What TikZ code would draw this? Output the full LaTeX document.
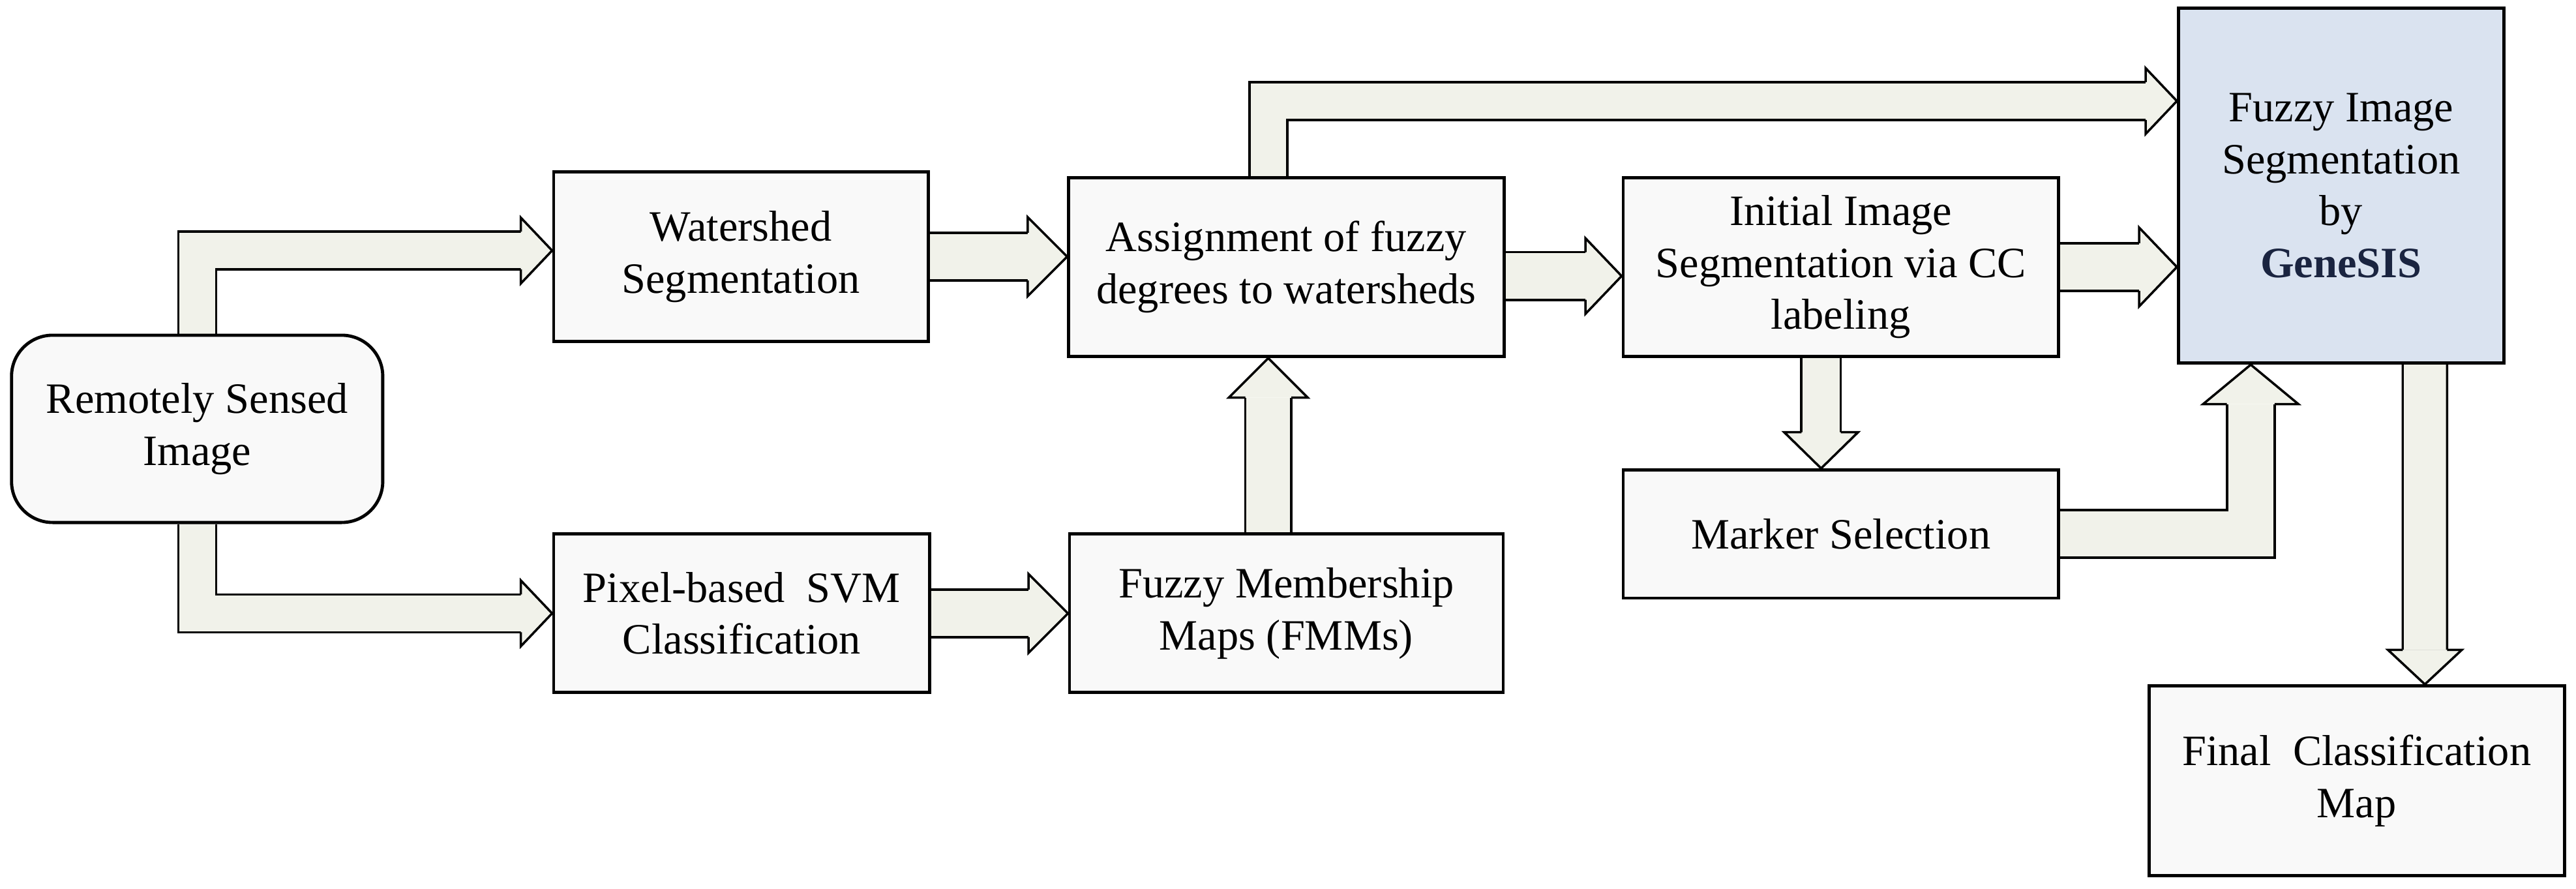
\documentclass[tikz,border=0pt]{standalone}
\usepackage{fontspec}
\setmainfont{Liberation Serif}
\usetikzlibrary{calc}
\definecolor{afill}{HTML}{F1F2EA}
\definecolor{bfill}{HTML}{F9F9F9}
\definecolor{gfill}{HTML}{DAE3F0}
\definecolor{gtext}{HTML}{1A2440}
\pgfdeclarelayer{bg}\pgfsetlayers{bg,main}
\newcommand\fatarrow[6]{%
  \begin{pgfonlayer}{bg}
  \draw[line width=0.8pt, line join=miter, double=afill, double distance=#1*0.02cm-0.8pt] #4;
  \begin{scope}[shift={#5}, rotate=#6]
    \filldraw[fill=afill, line width=0.8pt, line join=miter]
      (-#3,#1/2) -- (-#3,#2/2) -- (0,0) -- (-#3,-#2/2) -- (-#3,-#1/2);
  \end{scope}
  \end{pgfonlayer}}
\begin{document}
\begin{tikzpicture}[x=0.02cm, y=-0.02cm,
  box/.style={draw, line width=1.1pt, fill=bfill, align=center, inner sep=2pt,
    font=\fontsize{15}{18}\selectfont},
  lbl/.style={}]
\useasboundingbox (0,0) rectangle (1568,541);
\node[box, rounded corners=0.5cm, minimum width=4.52cm, minimum height=2.28cm] (rsi) at (120,261) {Remotely Sensed\\Image};
\node[box, minimum width=4.56cm, minimum height=2.06cm] (ws) at (451,156.2) {Watershed\\Segmentation};
\node[box, minimum width=4.58cm, minimum height=1.93cm] (px) at (451.5,373.3) {Pixel-based~~SVM\\Classification};
\node[box, minimum width=5.3cm, minimum height=2.18cm] (as) at (783,162.5) {Assignment of fuzzy\\degrees to watersheds};
\node[box, minimum width=5.28cm, minimum height=1.93cm] (fmm) at (783,373.3) {Fuzzy Membership\\Maps (FMMs)};
\node[box, minimum width=5.3cm, minimum height=2.18cm] (ini) at (1120.5,162.5) {Initial Image\\Segmentation via CC\\labeling};
\node[box, minimum width=5.3cm, minimum height=1.56cm] (mk) at (1120.5,325) {Marker Selection};
\node[box, fill=gfill, minimum width=3.96cm, minimum height=4.32cm] (gen) at (1425,113) {Fuzzy Image\\Segmentation\\by\\\textcolor{gtext}{\textbf{GeneSIS}}};
\node[box, minimum width=5.06cm, minimum height=2.31cm] (fin) at (1434.5,475.2) {Final~~Classification\\Map};

\fatarrow{23}{40}{19}{(rsi.north) |- ($(ws.west)+(-19,-3.7)$)}{($(ws.west)+(0,-3.7)$)}{0}
\fatarrow{23}{40}{19}{(rsi.south) |- ($(px.west)+(-19,0)$)}{(px.west)}{0}
\fatarrow{29}{48}{24}{(ws.east) -- ($(as.west|-ws.east)+(-24,0)$)}{(as.west|-ws.east)}{0}
\fatarrow{29}{48}{24}{(px.east) -- ($(fmm.west|-px.east)+(-24,0)$)}{(fmm.west|-px.east)}{0}
\fatarrow{28}{48}{24}{($(fmm.north)+(-11,0)$) -- ($(as.south)+(-11,24)$)}{($(as.south)+(-11,0)$)}{90}
\fatarrow{23}{40}{19}{($(as.north)+(-11,0)$) |- ($(gen.west)+(-19,-51.5)$)}{($(gen.west)+(0,-51.5)$)}{0}
\fatarrow{29}{46}{22}{($(as.east)+(0,5.5)$) -- ($(ini.west)+(-22,5.5)$)}{($(ini.west)+(0,5.5)$)}{0}
\fatarrow{29}{48}{23}{(ini.east) -- ($(gen.west|-ini.east)+(-23,0)$)}{(gen.west|-ini.east)}{0}
\fatarrow{24}{45}{22}{($(ini.south)+(-12,0)$) -- ($(mk.north)+(-12,-22)$)}{($(mk.north)+(-12,0)$)}{-90}
\fatarrow{29}{58}{24}{(mk.east) -| ($(gen.south)+(-55,24)$)}{($(gen.south)+(-55,0)$)}{90}
\fatarrow{27}{45}{21}{($(gen.south)+(51,0)$) -- ($(fin.north)+(41.5,-21)$)}{($(fin.north)+(41.5,0)$)}{-90}
\end{tikzpicture}
\end{document}
